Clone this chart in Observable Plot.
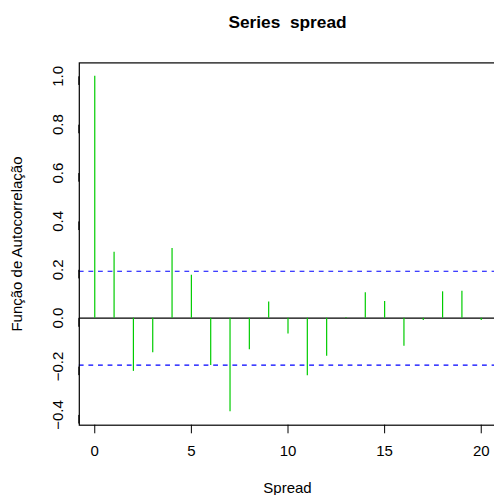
<!DOCTYPE html>
<html>
<head>
<meta charset="utf-8">
<script src="https://cdn.jsdelivr.net/npm/d3@7"></script>
<script src="https://cdn.jsdelivr.net/npm/@observablehq/plot@0.6"></script>
<style>
  html, body { margin: 0; padding: 0; background: #fff; overflow: hidden; }
  svg text { white-space: pre; }
</style>
</head>
<body>
<div id="chart"></div>
<script>
const lags = [0,1,2,3,4,5,6,7,8,9,10,11,12,13,14,15,16,17,18,19,20];
const acfValues = [1.0, 0.273, -0.220, -0.143, 0.288, 0.177, -0.196, -0.387, -0.131, 0.067, -0.065,
                   -0.238, -0.157, 0.003, 0.105, 0.069, -0.116, -0.010, 0.109, 0.111, -0.010];
const ciLevel = 0.194;
const ciLevels = [ciLevel, -ciLevel];
const xTicks = [0, 5, 10, 15, 20];
const yTicks = [-0.4, -0.2, 0.0, 0.2, 0.4, 0.6, 0.8, 1.0];
const titleText = "Series  spread";
const xLabel = "Spread";
const yLabel = "Função de Autocorrelação";

const data = lags.map((l, i) => ({lag: l, acf: acfValues[i]}));

const chart = Plot.plot({
  width: 494,
  height: 495,
  marginLeft: 78.8,
  marginRight: -2.2,
  marginTop: 62.4,
  marginBottom: 70.3,
  style: {fontFamily: "'Liberation Sans', Arial, Helvetica, sans-serif", fontSize: "15px", background: "#fff", color: "#000", overflow: "hidden"},
  x: {domain: [-0.8, 20.8]},
  y: {domain: [-0.4425, 1.0555]},
  marks: [
    Plot.ruleY([0], {stroke: "#000", strokeWidth: 1.2}),
    Plot.ruleY(ciLevels, {y: d => d, stroke: "blue", strokeWidth: 1.2, strokeDasharray: "4.8,4.8"}),
    Plot.ruleX(data, {x: "lag", y1: 0, y2: "acf", stroke: "#00cc00", strokeWidth: 1.2}),
    Plot.frame({stroke: "#000", strokeWidth: 1.2}),
    Plot.axisX({ticks: xTicks, tickSize: 8.6, tickPadding: 12, tickFormat: d => String(d), fontSize: 15, label: null}),
    Plot.axisY({ticks: yTicks, tickSize: 8.6, tickPadding: 13, tickFormat: d3.format(".1f"), rotate: -90, textAnchor: "middle", fontSize: 15, label: null}),
    Plot.text([titleText], {frameAnchor: "top", dy: -40.4, dx: -0.5, lineAnchor: "middle", fontWeight: "bold", fontSize: 17.3}),
    Plot.text([xLabel], {frameAnchor: "bottom", dy: 63.3, dx: -0.5, lineAnchor: "middle", fontSize: 15}),
    Plot.text([yLabel], {frameAnchor: "left", dx: -61.8, rotate: -90, textAnchor: "middle", lineAnchor: "middle", fontSize: 15})
  ]
});
document.getElementById("chart").appendChild(chart);
</script>
</body>
</html>
